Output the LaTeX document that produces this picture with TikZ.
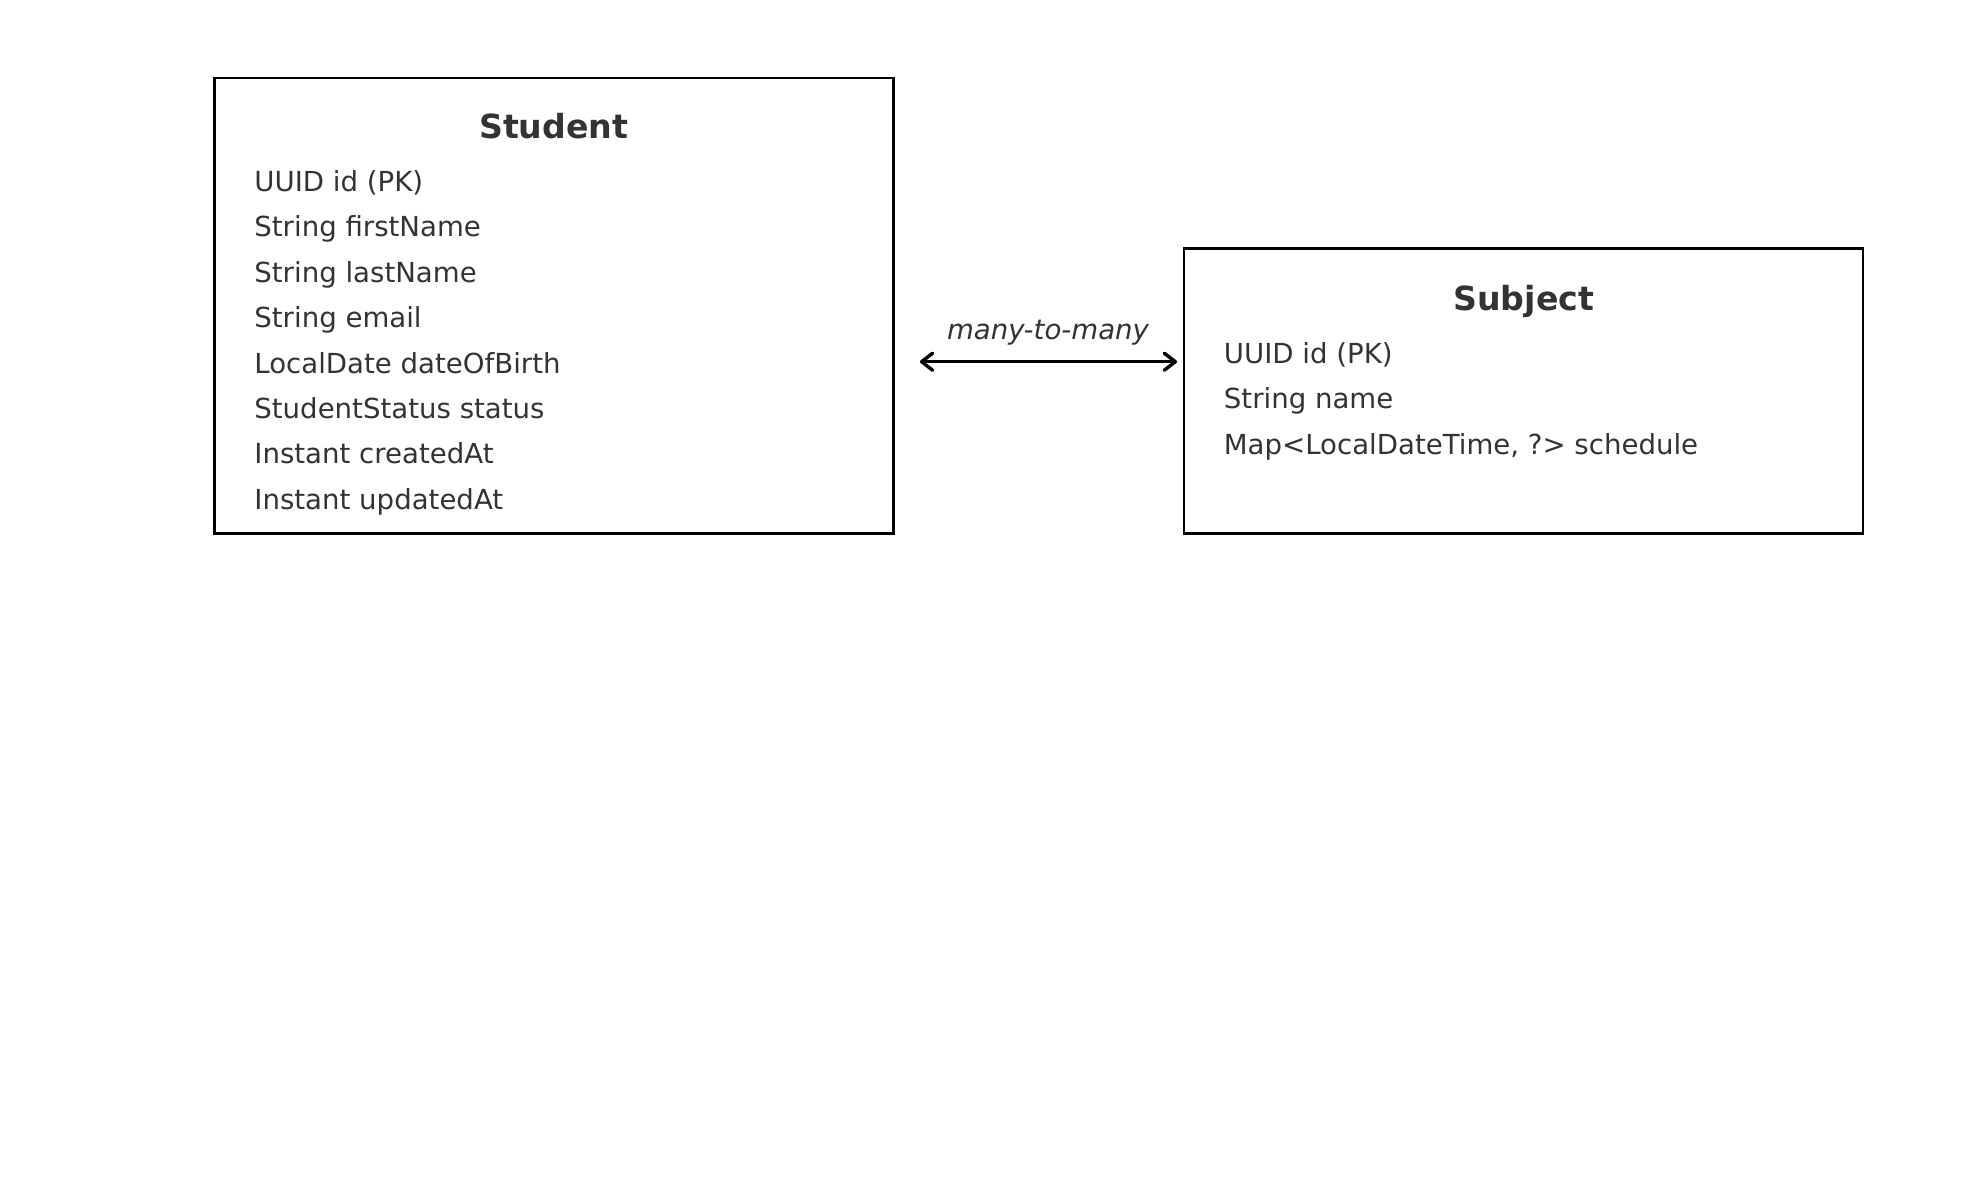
\documentclass[tikz,border=0pt]{standalone}
\usepackage{fontspec}
\setmainfont{DejaVu Sans}
\usetikzlibrary{arrows.meta}
\definecolor{txt}{HTML}{333333}
\tikzset{
  entbox/.style={draw=black, line width=1.2pt, inner sep=0pt, outer sep=0pt, anchor=north west, minimum width=339.5pt},
  enttitle/.style={anchor=base, inner sep=0pt, text=txt, font=\fontsize{16.6}{18}\selectfont\bfseries},
  attr/.style={anchor=base west, inner sep=0pt, text=txt, font=\fontsize{13.8}{16}\selectfont},
  rellabel/.style={anchor=base, inner sep=0pt, text=txt, font=\fontsize{13.8}{16}\selectfont\itshape},
  relarrow/.style={line width=1.7pt, {Straight Barb[length=5.5pt,width=8.5pt,line cap=round,line join=round]}-{Straight Barb[length=5.5pt,width=8.5pt,line cap=round,line join=round]}}
}
\begin{document}
\begin{tikzpicture}[x=0.5pt,y=-0.5pt]
\useasboundingbox (0,0) rectangle (1979,1180);
% Student
\node[entbox, minimum height=227.8pt] (student) at (214.3,77.7) {};
\node[enttitle] (stitle) at (553.8,138.5) {Student};
\node[attr] (s1) at (254,191.5) {UUID id (PK)};
\node[attr] (s2) at (254,236.9) {String firstName};
\node[attr] (s3) at (254,282.3) {String lastName};
\node[attr] (s4) at (254,327.7) {String email};
\node[attr] (s5) at (254,373.1) {LocalDate dateOfBirth};
\node[attr] (s6) at (254,418.5) {StudentStatus status};
\node[attr] (s7) at (254,463.9) {Instant createdAt};
\node[attr] (s8) at (254,509.3) {Instant updatedAt};
% Subject
\node[entbox, minimum height=142.5pt] (subject) at (1184,248.3) {};
\node[enttitle] (ttitle) at (1523.7,310) {Subject};
\node[attr] (t1) at (1223.5,363.2) {UUID id (PK)};
\node[attr] (t2) at (1223.5,408.6) {String name};
\node[attr] (t3) at (1223.5,454.0) {Map<LocalDateTime, ?> schedule};
% relation
\coordinate (rel) at (1048,361.7);
\draw[relarrow, shorten <=13.3pt, shorten >=3.5pt] (student.east |- rel) -- (subject.west |- rel);
\node[rellabel] (rl) at (1048,339.3) {many-to-many};
\end{tikzpicture}
\end{document}
